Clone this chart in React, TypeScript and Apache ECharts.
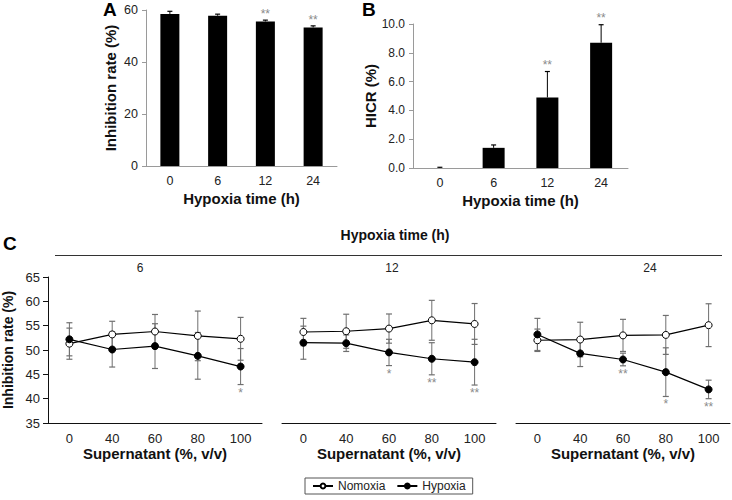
import React, { useEffect, useRef } from "react";
import * as echarts from "echarts";

// ---- Panel A ----
const hypoxiaHours = ["0", "6", "12", "24"];
const inhibitionA = [58.5, 57.8, 55.6, 53.3];
const inhibitionAErr = [1.0, 0.6, 0.5, 0.6];
const starsA = ["", "", "**", "**"];

// ---- Panel B ----
const hicrB = [0, 1.4, 4.9, 8.7];
const hicrBErr = [0.05, 0.2, 1.8, 1.25];
const starsB = ["", "", "**", "**"];

// ---- Panel C ----
const supernatant = ["0", "40", "60", "80", "100"];
const panelCHours = ["6", "12", "24"];
const normoxia6 = [51.3, 53.2, 53.8, 52.9, 52.3];
const normoxia6Err = [3.2, 2.7, 3.5, 5.1, 4.4];
const hypoxia6 = [52.2, 50.1, 50.8, 48.8, 46.6];
const hypoxia6Err = [3.4, 3.6, 4.6, 4.8, 3.7];
const stars6 = ["", "", "", "", "*"];
const normoxia12 = [53.7, 53.85, 54.4, 56.1, 55.35];
const normoxia12Err = [2.8, 3.5, 3.0, 4.1, 4.2];
const hypoxia12 = [51.5, 51.4, 49.5, 48.2, 47.5];
const hypoxia12Err = [3.4, 1.7, 2.7, 3.3, 4.7];
const stars12 = ["", "", "*", "**", "**"];
const normoxia24 = [52.0, 52.15, 53.0, 53.1, 55.1];
const normoxia24Err = [2.3, 3.55, 3.3, 4.0, 4.4];
const hypoxia24 = [53.2, 49.3, 48.05, 45.45, 41.9];
const hypoxia24Err = [3.3, 2.7, 1.3, 5.0, 1.9];
const stars24 = ["", "", "**", "*", "**"];

const FONT = "Liberation Sans, Arial, sans-serif";

function errorBars(both: boolean, capHalf: number, color: string) {
  return (params: any, api: any) => {
    const x = api.value(0);
    const y = api.value(1);
    const e = api.value(2);
    const top = api.coord([x, y + e]);
    const mid = api.coord([x, y]);
    const bot = api.coord([x, y - e]);
    const cx = mid[0];
    const children: any[] = [
      {
        type: "line",
        shape: { x1: cx, y1: top[1], x2: cx, y2: both ? bot[1] : mid[1] },
        style: { stroke: color, lineWidth: 1 },
      },
      {
        type: "line",
        shape: { x1: cx - capHalf, y1: top[1], x2: cx + capHalf, y2: top[1] },
        style: { stroke: color, lineWidth: 1.2 },
      },
    ];
    if (both) {
      children.push({
        type: "line",
        shape: { x1: cx - capHalf, y1: bot[1], x2: cx + capHalf, y2: bot[1] },
        style: { stroke: color, lineWidth: 1.2 },
      });
    }
    return { type: "group", children };
  };
}

function starRender(stars: string[], above: boolean, gap: number) {
  return (params: any, api: any) => {
    const s = stars[params.dataIndex];
    if (!s) return null;
    const x = api.value(0);
    const y = api.value(1);
    const e = api.value(2);
    const p = api.coord([x, above ? y + e : y - e]);
    return {
      type: "text",
      style: {
        text: s,
        x: p[0],
        y: above ? p[1] - gap : p[1] + gap,
        align: "center",
        verticalAlign: above ? "bottom" : "top",
        fill: "#8a8a8a",
        fontSize: 12,
        fontFamily: FONT,
      },
    };
  };
}

const toErr = (vals: number[], errs: number[]) => vals.map((v, i) => [i, v, errs[i]]);

export default function App() {
  const ref = useRef<HTMLDivElement>(null);
  useEffect(() => {
    if (!ref.current) return;
    const chart = echarts.init(ref.current, undefined, { renderer: "svg" });

    const cLefts = [48, 282, 516];
    const cWidth = 214;
    const cTop = 277;
    const cHeight = 146;

    const grayAxis = { lineStyle: { color: "#9a9a9a", width: 1 } };
    const nameStyle = { fontWeight: "bold", fontSize: 15, color: "#111", fontFamily: FONT };

    const xAxes: any[] = [
      {
        gridIndex: 0,
        type: "category",
        data: hypoxiaHours,
        axisLine: grayAxis,
        axisTick: { ...grayAxis, length: 4 },
        axisLabel: { color: "#222", fontSize: 12.5, margin: 8 },
        name: "Hypoxia time (h)",
        nameLocation: "middle",
        nameGap: 25,
        nameTextStyle: nameStyle,
      },
      {
        gridIndex: 1,
        type: "category",
        data: hypoxiaHours,
        axisLine: grayAxis,
        axisTick: { ...grayAxis, length: 4 },
        axisLabel: { color: "#222", fontSize: 12.5, margin: 8 },
        name: "Hypoxia time (h)",
        nameLocation: "middle",
        nameGap: 25,
        nameTextStyle: nameStyle,
      },
    ];
    const yAxes: any[] = [
      {
        gridIndex: 0,
        type: "value",
        min: 0,
        max: 60,
        interval: 20,
        axisLine: { show: true, ...grayAxis },
        axisTick: { show: true, ...grayAxis, length: 4 },
        splitLine: { show: false },
        axisLabel: { color: "#222", fontSize: 12.5, margin: 8 },
        name: "Inhibition rate (%)",
        nameLocation: "middle",
        nameGap: 28,
        nameTextStyle: nameStyle,
      },
      {
        gridIndex: 1,
        type: "value",
        min: 0,
        max: 10,
        interval: 2,
        axisLine: { show: true, ...grayAxis },
        axisTick: { show: true, ...grayAxis, length: 4 },
        splitLine: { show: false },
        axisLabel: { color: "#222", fontSize: 12, margin: 8, formatter: (v: number) => v.toFixed(1) },
        name: "HICR (%)",
        nameLocation: "middle",
        nameGap: 35,
        nameTextStyle: nameStyle,
      },
    ];
    const grids: any[] = [
      { left: 146, top: 10, width: 191, height: 156 },
      { left: 413, top: 24, width: 215, height: 144 },
    ];
    cLefts.forEach((l, k) => {
      grids.push({ left: l, top: cTop, width: cWidth, height: cHeight });
      xAxes.push({
        gridIndex: 2 + k,
        type: "category",
        data: supernatant,
        axisLine: { lineStyle: { color: "#111", width: 1 } },
        axisTick: { lineStyle: { color: "#111" }, length: 5 },
        axisLabel: { color: "#222", fontSize: 13, margin: 9 },
        name: "Supernatant (%, v/v)",
        nameLocation: "middle",
        nameGap: 22,
        nameTextStyle: nameStyle,
      });
      yAxes.push({
        gridIndex: 2 + k,
        type: "value",
        min: 35,
        max: 65,
        interval: 5,
        show: k === 0,
        axisLine: { show: true, lineStyle: { color: "#111", width: 1 } },
        axisTick: { show: true, lineStyle: { color: "#111" }, length: 5 },
        splitLine: { show: false },
        axisLabel: { color: "#222", fontSize: 13, margin: 8 },
        name: "Inhibition rate (%)",
        nameLocation: "middle",
        nameGap: 33,
        nameTextStyle: { ...nameStyle, fontSize: 14 },
      });
    });

    const series: any[] = [
      {
        type: "bar",
        xAxisIndex: 0,
        yAxisIndex: 0,
        data: inhibitionA,
        barWidth: 19,
        itemStyle: { color: "#000" },
        z: 2,
      },
      {
        type: "custom",
        xAxisIndex: 0,
        yAxisIndex: 0,
        data: toErr(inhibitionA, inhibitionAErr),
        renderItem: errorBars(false, 2.5, "#000"),
        z: 3,
      },
      {
        type: "custom",
        xAxisIndex: 0,
        yAxisIndex: 0,
        data: toErr(inhibitionA, inhibitionAErr),
        renderItem: starRender(starsA, true, 0),
        z: 3,
      },
      {
        type: "bar",
        xAxisIndex: 1,
        yAxisIndex: 1,
        data: hicrB,
        barWidth: 22,
        itemStyle: { color: "#000" },
        z: 2,
      },
      {
        type: "custom",
        xAxisIndex: 1,
        yAxisIndex: 1,
        data: toErr(hicrB, hicrBErr),
        renderItem: errorBars(false, 2.5, "#000"),
        z: 3,
      },
      {
        type: "custom",
        xAxisIndex: 1,
        yAxisIndex: 1,
        data: toErr(hicrB, hicrBErr),
        renderItem: starRender(starsB, true, 1),
        z: 3,
      },
    ];

    const cSets = [
      { n: normoxia6, ne: normoxia6Err, h: hypoxia6, he: hypoxia6Err, s: stars6 },
      { n: normoxia12, ne: normoxia12Err, h: hypoxia12, he: hypoxia12Err, s: stars12 },
      { n: normoxia24, ne: normoxia24Err, h: hypoxia24, he: hypoxia24Err, s: stars24 },
    ];
    cSets.forEach((d, k) => {
      const ax = 2 + k;
      series.push(
        {
          type: "custom",
          xAxisIndex: ax,
          yAxisIndex: ax,
          data: toErr(d.n, d.ne),
          renderItem: errorBars(true, 3, "#6f6f6f"),
          z: 1,
        },
        {
          type: "custom",
          xAxisIndex: ax,
          yAxisIndex: ax,
          data: toErr(d.h, d.he),
          renderItem: errorBars(true, 3, "#6f6f6f"),
          z: 1,
        },
        {
          type: "custom",
          xAxisIndex: ax,
          yAxisIndex: ax,
          data: toErr(d.h, d.he),
          renderItem: starRender(d.s, false, 2),
          z: 1,
        },
        {
          name: "Nomoxia",
          type: "line",
          xAxisIndex: ax,
          yAxisIndex: ax,
          data: d.n,
          symbol: "circle",
          symbolSize: 7,
          lineStyle: { color: "#000", width: 1.2 },
          itemStyle: { color: "#fff", borderColor: "#000", borderWidth: 1 },
          z: 3,
        },
        {
          name: "Hypoxia",
          type: "line",
          xAxisIndex: ax,
          yAxisIndex: ax,
          data: d.h,
          symbol: "circle",
          symbolSize: 7,
          lineStyle: { color: "#000", width: 1.2 },
          itemStyle: { color: "#000", borderColor: "#000", borderWidth: 1 },
          z: 3,
        }
      );
    });

    const headerXs = [140, 392, 650];
    const graphic: any[] = [
      { type: "text", left: 103, top: 0, style: { text: "A", fontSize: 19, fontWeight: "bold", fill: "#000", fontFamily: FONT } },
      { type: "text", left: 362, top: 0, style: { text: "B", fontSize: 19, fontWeight: "bold", fill: "#000", fontFamily: FONT } },
      { type: "text", left: 3, top: 234, style: { text: "C", fontSize: 19, fontWeight: "bold", fill: "#000", fontFamily: FONT } },
      {
        type: "text",
        x: 395,
        y: 235,
        style: { text: "Hypoxia time (h)", fontSize: 14, fontWeight: "bold", fill: "#111", align: "center", verticalAlign: "middle", fontFamily: FONT },
      },
      { type: "line", shape: { x1: 55, y1: 255.5, x2: 722, y2: 255.5 }, style: { stroke: "#333", lineWidth: 1 } },
      ...panelCHours.map((h, i) => ({
        type: "text",
        x: headerXs[i],
        y: 268,
        style: { text: h, fontSize: 12, fill: "#222", align: "center", verticalAlign: "middle", fontFamily: FONT },
      })),
    ];

    chart.setOption({
      animation: false,
      textStyle: { fontFamily: FONT },
      grid: grids,
      xAxis: xAxes,
      yAxis: yAxes,
      series,
      graphic,
      legend: {
        data: ["Nomoxia", "Hypoxia"],
        left: 305,
        top: 478,
        borderColor: "#555",
        borderWidth: 1,
        borderRadius: 0,
        padding: [2, 7],
        itemGap: 11,
        itemWidth: 20,
        itemHeight: 6,
        selectedMode: false,
        textStyle: { fontSize: 12, color: "#222", fontFamily: FONT },
      },
    });
    return () => chart.dispose();
  }, []);
  return <div ref={ref} style={{ position: "absolute", left: 0, top: 0, width: 732, height: 500 }} />;
}
